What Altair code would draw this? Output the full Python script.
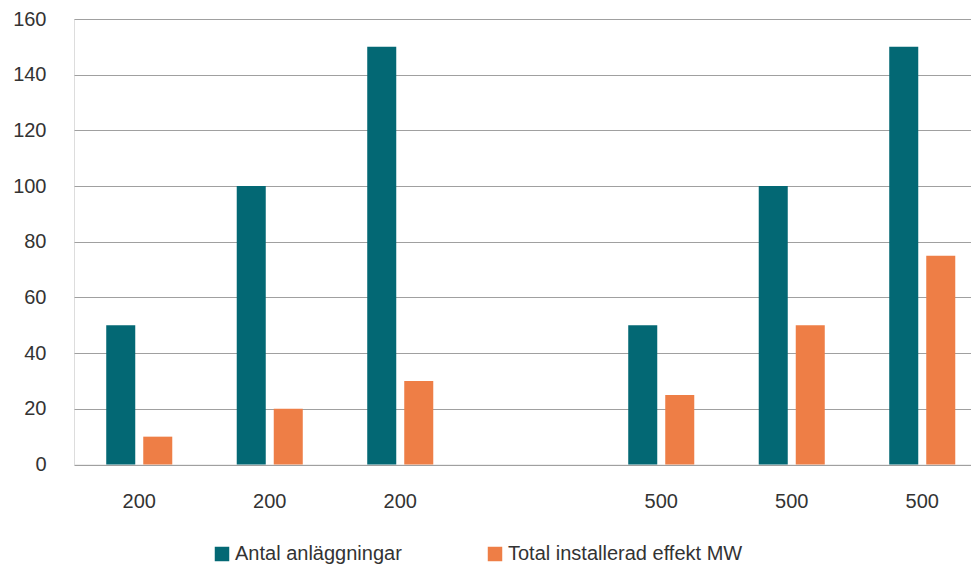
import altair as alt
import pandas as pd

# Data
slots = ["s1", "s2", "s3", "s4", "s5", "s6", "s7"]
slot_labels = ["200", "200", "200", "", "500", "500", "500"]
series = ["Antal anläggningar", "Total installerad effekt MW"]
antal = [50, 100, 150, None, 50, 100, 150]
effekt = [10, 20, 30, None, 25, 50, 75]
colors = ["#036874", "#EE7E46"]

rows = []
for s, a, e in zip(slots, antal, effekt):
    if a is not None:
        rows.append({"slot": s, "serie": series[0], "value": a})
    if e is not None:
        rows.append({"slot": s, "serie": series[1], "value": e})
df = pd.DataFrame(rows)

label_map = "{" + ",".join(f"'{s}':'{l}'" for s, l in zip(slots, slot_labels)) + "}"

FONT = "Liberation Sans"
TXT = "#333333"

chart = alt.Chart(df).mark_bar().encode(
    x=alt.X("slot:N", sort=slots,
            scale=alt.Scale(domain=slots, range=[0, 913.5], paddingInner=0, paddingOuter=0),
            axis=alt.Axis(title=None, labelExpr=f"{label_map}[datum.value]", labelAngle=0,
                          domain=False, ticks=False, tickSize=0, labelPadding=26.5,
                          labelFont=FONT, labelFontSize=20, labelColor=TXT, grid=False)),
    xOffset=alt.XOffset("serie:N", sort=series,
                        scale=alt.Scale(domain=series, paddingInner=0.216, paddingOuter=0.871)),
    y=alt.Y("value:Q", scale=alt.Scale(domain=[0, 160], nice=False),
            axis=alt.Axis(title=None, values=[0, 20, 40, 60, 80, 100, 120, 140, 160],
                          domain=False, ticks=False, tickSize=0, labelPadding=28,
                          labelFont=FONT, labelFontSize=20, labelColor=TXT,
                          gridColor="#a0a0a0", gridWidth=1, gridOpacity=1)),
    color=alt.Color("serie:N", sort=series,
                    scale=alt.Scale(domain=series, range=colors),
                    legend=alt.Legend(title=None, orient="none", legendX=138, legendY=525,
                                      direction="horizontal", columns=2, columnPadding=83,
                                      symbolType="square", symbolSize=210, symbolStrokeWidth=0,
                                      labelOffset=3, labelFont=FONT, labelFontSize=20,
                                      labelLimit=0, labelColor=TXT, padding=0)),
).properties(
    width=897, height=445.5,
    autosize=alt.AutoSizeParams(type="none"),
    padding={"left": 66, "top": 11, "right": 0, "bottom": 99},
).configure_view(stroke=None).configure(background="white")

chart.save("out.html", embed_options={"renderer": "svg", "actions": False})
